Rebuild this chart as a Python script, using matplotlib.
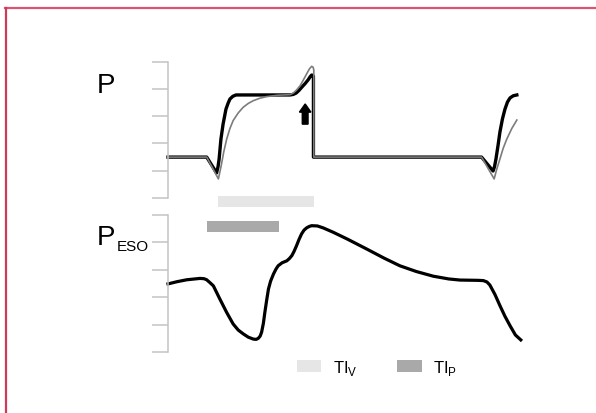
import matplotlib.pyplot as plt
from matplotlib.lines import Line2D
from matplotlib.patches import Patch

plt.rcParams['font.family'] = ['Liberation Sans', 'DejaVu Sans']

# давление в дыхательных путях (P): чёрная и серая кривые
t_black = [0, 10.75, 13.5, 13.9, 14.2, 14.7, 15.3, 16.1, 16.7, 17.2, 18.0, 18.9, 33.9, 34.8,
           35.6, 36.4, 37.2, 38.1, 38.9, 39.5, 39.9, 40.2, 40.4,
           40.4, 87.1, 90.3, 90.7, 91.1, 91.7, 92.2, 92.9, 93.6, 94.3, 95.0, 95.9, 96.9]
p_black = [1.5, 1.5, 0.92, 1.15, 1.43, 2.16, 2.71, 3.26, 3.48, 3.63, 3.73, 3.78, 3.78, 3.80,
           3.85, 3.95, 4.07, 4.20, 4.33, 4.45, 4.51, 4.50, 4.46,
           1.5, 1.5, 0.99, 1.15, 1.43, 1.95, 2.42, 2.90, 3.26, 3.52, 3.67, 3.75, 3.78]
t_gray = [0, 10.75, 14.0, 14.8, 15.5, 16.3, 17.2, 18.1, 19.5, 20.9, 22.3, 23.7, 25.5, 27.4,
          30.5, 33.9, 34.8, 35.7, 36.7, 37.6, 38.5, 39.3, 39.9, 40.3, 40.5,
          40.5, 87.1, 90.6, 91.3, 92.2, 93.1, 94.1, 95.5, 96.9]
p_gray = [1.5, 1.5, 0.70, 1.20, 1.70, 2.16, 2.55, 2.84, 3.12, 3.33, 3.47, 3.57, 3.66, 3.72,
          3.77, 3.79, 3.85, 3.96, 4.12, 4.33, 4.55, 4.74, 4.83, 4.80, 4.70,
          1.5, 1.5, 0.70, 1.05, 1.43, 1.82, 2.16, 2.55, 2.86]

# пищеводное давление (P_ESO)
t_eso = [0, 2.5, 5.2, 8.9, 10.0, 10.75, 11.7, 12.6, 14.4, 16.3, 18.1, 19.5, 20.9, 22.3, 23.7,
         24.5, 25.1, 25.6, 26.0, 26.5, 26.9, 27.4, 27.9, 28.5, 29.3, 30.0, 30.6, 31.7, 33.0,
         33.7, 34.4, 35.0, 35.7, 36.4, 37.1, 37.8, 38.5, 39.2, 39.9, 41.5, 43.1, 45.9, 50.0,
         55.2, 60.0, 64.4, 69.0, 73.7, 78.0, 81.1, 86.0, 87.6, 88.6, 89.4, 90.8, 92.2, 93.6,
         95.0, 96.5, 98.0]
p_eso = [2.48, 2.56, 2.63, 2.68, 2.67, 2.63, 2.52, 2.41, 1.93, 1.44, 1.02, 0.80, 0.66, 0.54, 0.47,
         0.46, 0.50, 0.58, 0.72, 1.05, 1.44, 1.88, 2.29, 2.58, 2.84, 3.02, 3.14, 3.25, 3.32,
         3.40, 3.51, 3.66, 3.87, 4.10, 4.30, 4.44, 4.52, 4.57, 4.60, 4.59, 4.52, 4.36, 4.10,
         3.75, 3.42, 3.14, 2.93, 2.76, 2.66, 2.62, 2.61, 2.60, 2.55, 2.44, 2.10, 1.69, 1.30,
         0.96, 0.62, 0.44]

# интервалы TI_V и TI_P (начало, длительность, уровень, высота)
ti_v = (13.97, 26.6, 5.27, 0.42)
ti_p = (10.95, 19.85, 4.36, 0.42)
arrow_t, arrow_p0, arrow_p1 = 38.1, 2.71, 3.45

W, H = 596, 414
fig = plt.figure(figsize=(W / 100, H / 100), dpi=100)

def px_axes(x0, y_top, x1, y_bot):
    return fig.add_axes([x0 / W, 1 - y_bot / H, (x1 - x0) / W, (y_bot - y_top) / H])

ax1 = px_axes(168, 62.7, 528, 199)
ax2 = px_axes(168, 215.7, 528, 353)

for ax in (ax1, ax2):
    ax.set_xlim(0, 100)
    ax.set_ylim(0, 5)
    ax.set_yticks(range(6))
    ax.set_yticklabels([])
    ax.set_xticks([])
    for s in ['top', 'right', 'bottom']:
        ax.spines[s].set_visible(False)
    ax.spines['left'].set_color('#c4c4c4')
    ax.spines['left'].set_linewidth(1.1)
    ax.tick_params(axis='y', length=11.5, width=1.1, color='#c4c4c4', direction='out')
    ax.patch.set_alpha(0)

ax1.plot(t_black, p_black, color='black', lw=2.4, clip_on=False, solid_joinstyle='round')
ax1.plot(t_gray, p_gray, color='#7c7c7c', lw=1.2, clip_on=False, solid_joinstyle='round')
ax1.arrow(arrow_t, arrow_p0, 0, arrow_p1 - arrow_p0, width=1.6, head_width=3.2,
          head_length=0.3, length_includes_head=True, color='black', clip_on=False)

ax2.plot(t_eso, p_eso, color='black', lw=2.3, clip_on=False, solid_joinstyle='round')
ax2.broken_barh([ti_v[:2]], ti_v[2:], facecolor='#e6e6e6', edgecolor='none', clip_on=False)
ax2.broken_barh([ti_p[:2]], ti_p[2:], facecolor='#a9a9a9', edgecolor='none', clip_on=False)

fig.text(97 / W, 1 - 93 / H, 'P', fontsize=20, va='baseline')
fig.text(97 / W, 1 - 245 / H, 'P', fontsize=20, va='baseline')
fig.text(116.5 / W, 1 - 251 / H, 'ESO', fontsize=11, va='baseline')

handles = [Patch(facecolor='#e6e6e6', edgecolor='none'),
           Patch(facecolor='#a9a9a9', edgecolor='none')]
labels = ['TI$_\\mathregular{V}$', 'TI$_\\mathregular{P}$']
fig.legend(handles, labels, loc='upper left', bbox_to_anchor=(297 / W, 1 - 359 / H),
           ncol=2, frameon=False, fontsize=12, borderpad=0, borderaxespad=0,
           handlelength=1.45, handleheight=0.75, handletextpad=0.7, columnspacing=2.4)

# красная рамка
fig.add_artist(Line2D([5 / W, 1], [1 - 9 / H, 1 - 9 / H], color='#dc5473', lw=1.6))
fig.add_artist(Line2D([6 / W, 6 / W], [0, 1 - 9 / H], color='#cf3a58', lw=1.6))

fig.savefig('out.png', dpi=100)
